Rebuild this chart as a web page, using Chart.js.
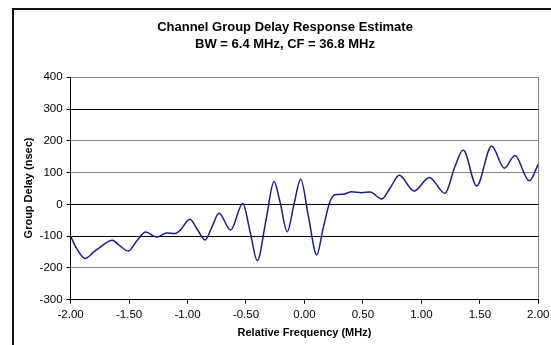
<!DOCTYPE html>
<html>
<head>
<meta charset="utf-8">
<script src="https://cdn.jsdelivr.net/npm/chart.js@4.4.1/dist/chart.umd.min.js"></script>
<style>
  html, body { margin: 0; padding: 0; background: #ffffff; }
  #wrap { position: relative; width: 551px; height: 345px; overflow: hidden; }
  canvas { display: block; }
</style>
</head>
<body>
<div id="wrap"><canvas id="chart" width="551" height="345"></canvas></div>
<script>
// Chart text
const titleLines = ['Channel Group Delay Response Estimate', 'BW = 6.4 MHz, CF = 36.8 MHz'];
const xAxisTitle = 'Relative Frequency (MHz)';
const yAxisTitle = 'Group Delay (nsec)';

// Tick values
const xTickValues = [-2, -1.5, -1, -0.5, 0, 0.5, 1, 1.5, 2];
const yTickValues = [-300, -200, -100, 0, 100, 200, 300, 400];

// Measured group delay vs. relative frequency
const freqMHz = [
  -2.00, -1.95, -1.877, -1.80, -1.749, -1.643, -1.58, -1.506, -1.43, -1.358,
  -1.264, -1.178, -1.107, -1.064, -0.979, -0.915, -0.85, -0.79, -0.731, -0.631,
  -0.528, -0.465, -0.403, -0.33, -0.26, -0.209, -0.147, -0.09, -0.032, 0.035,
  0.105, 0.16, 0.218, 0.261, 0.332, 0.404, 0.489, 0.561, 0.661, 0.732,
  0.811, 0.937, 1.068, 1.202, 1.287, 1.358, 1.473, 1.601, 1.709, 1.80,
  1.923, 2.00
];
const delayNs = [
  -100, -138, -170, -149, -135, -113, -130, -147, -113, -87,
  -103, -90, -92, -82, -47, -80, -112, -70, -28, -81,
  3, -85, -177, -52, 72, 8, -86, 0, 79, -40,
  -159, -75, 8, 30, 32, 40, 37, 39, 17, 51,
  92, 42, 85, 35, 119, 171, 58, 184, 114, 154,
  74, 127
];

const points = freqMHz.map((f, i) => ({ x: f, y: delayNs[i] }));

const FONT = '"Liberation Sans", Arial, Helvetica, sans-serif';
const GRID_DARK = '#000000';
const GRID_LIGHT = '#868686';
const darkLines = [300, 0, -100, -300];

// Fixed plot box
const PLOT = { left: 70.6, right: 538.3, top: 77.3, bottom: 299.7 };

const decorations = {
  id: 'decorations',
  beforeDraw(chart) {
    const ctx = chart.ctx;
    ctx.save();
    ctx.fillStyle = '#ffffff';
    ctx.fillRect(0, 0, chart.width, chart.height);
    // chart frame
    ctx.strokeStyle = '#111111';
    ctx.lineWidth = 2;
    ctx.strokeRect(13, 9, 600, 400);
    ctx.restore();
  },
  afterDraw(chart) {
    const ctx = chart.ctx;
    ctx.save();
    ctx.fillStyle = '#000000';
    ctx.textAlign = 'center';
    ctx.textBaseline = 'middle';
    ctx.font = 'bold 13px ' + FONT;
    ctx.fillText(titleLines[0], 285, 27);
    ctx.fillText(titleLines[1], 285, 44.5);

    ctx.font = 'bold 11px ' + FONT;
    ctx.fillText(xAxisTitle, (PLOT.left + PLOT.right) / 2, 333);

    ctx.translate(28.5, 188);
    ctx.rotate(-Math.PI / 2);
    ctx.fillText(yAxisTitle, 0, 0);
    ctx.restore();
  }
};

new Chart(document.getElementById('chart'), {
  type: 'line',
  data: {
    datasets: [{
      data: points,
      borderColor: '#1c1c8e',
      borderWidth: 1.5,
      pointRadius: 0,
      fill: false,
      cubicInterpolationMode: 'monotone'
    }]
  },
  options: {
    responsive: false,
    animation: false,
    devicePixelRatio: 1,
    layout: { padding: { top: PLOT.top, left: 0, right: 551 - PLOT.right, bottom: 0 } },
    plugins: {
      legend: { display: false },
      title: { display: false },
      tooltip: { enabled: false }
    },
    scales: {
      x: {
        type: 'linear',
        min: -2,
        max: 2,
        afterBuildTicks(scale) { scale.ticks = xTickValues.map(v => ({ value: v })); },
        afterFit(scale) {
          scale.height = 345 - PLOT.bottom;
          scale.paddingLeft = 0;
          scale.paddingRight = 0;
        },
        border: { display: true, color: '#000000', width: 1 },
        grid: {
          drawOnChartArea: true,
          drawTicks: true,
          tickLength: 4,
          tickColor: '#000000',
          color: (c) => (c.tick && c.tick.value === 2 ? GRID_LIGHT : 'rgba(0,0,0,0)')
        },
        ticks: {
          color: '#000000',
          padding: 4,
          maxRotation: 0,
          autoSkip: false,
          font: { family: FONT, size: 11.5 },
          callback: (v) => (Math.abs(v) < 1e-9 ? 0 : v).toFixed(2)
        }
      },
      y: {
        type: 'linear',
        min: -300,
        max: 400,
        afterBuildTicks(scale) { scale.ticks = yTickValues.map(v => ({ value: v })); },
        afterFit(scale) {
          scale.width = PLOT.left;
          scale.paddingTop = 0;
          scale.paddingBottom = 0;
        },
        border: { display: true, color: '#000000', width: 1 },
        grid: {
          drawTicks: true,
          tickLength: 4,
          tickColor: '#000000',
          lineWidth: 1,
          color: (c) => (c.tick && darkLines.includes(c.tick.value) ? GRID_DARK : GRID_LIGHT)
        },
        ticks: {
          color: '#000000',
          padding: 4,
          autoSkip: false,
          font: { family: FONT, size: 11.5 },
          callback: (v) => String(v)
        }
      }
    }
  },
  plugins: [decorations]
});
</script>
</body>
</html>
